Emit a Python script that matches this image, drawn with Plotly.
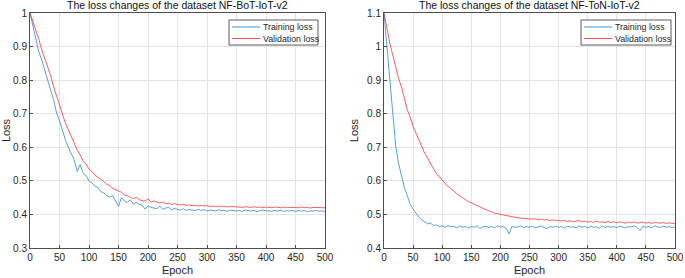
import plotly.graph_objects as go

epochs = list(range(0, 501, 5))

bot_train = [1.000,0.962,0.928,0.884,0.860,0.828,0.800,0.770,0.742,0.702,
 0.680,0.648,0.622,0.600,0.582,0.562,0.528,0.548,0.524,0.516,
 0.500,0.494,0.484,0.480,0.468,0.464,0.456,0.452,0.456,0.440,
 0.424,0.450,0.440,0.436,0.444,0.430,0.437,0.430,0.428,0.416,
 0.426,0.421,0.420,0.417,0.425,0.415,0.419,0.421,0.414,0.418,
 0.415,0.413,0.417,0.412,0.415,0.413,0.411,0.415,0.412,0.414,
 0.410,0.413,0.412,0.410,0.414,0.411,0.412,0.409,0.413,0.411,
 0.410,0.412,0.409,0.413,0.411,0.410,0.412,0.408,0.411,0.413,
 0.410,0.411,0.409,0.412,0.410,0.413,0.409,0.411,0.410,0.412,
 0.409,0.411,0.410,0.412,0.408,0.411,0.410,0.412,0.409,0.411,
 0.408]

bot_val = [1.000,0.975,0.948,0.922,0.890,0.866,0.838,0.814,0.780,0.754,
 0.722,0.697,0.672,0.652,0.630,0.614,0.592,0.577,0.560,0.550,
 0.535,0.528,0.517,0.511,0.503,0.498,0.490,0.486,0.478,0.473,
 0.470,0.466,0.458,0.456,0.452,0.447,0.451,0.444,0.441,0.440,
 0.446,0.437,0.440,0.436,0.434,0.437,0.432,0.434,0.430,0.432,
 0.430,0.428,0.430,0.427,0.428,0.426,0.427,0.425,0.427,0.425,
 0.426,0.424,0.425,0.423,0.425,0.423,0.424,0.422,0.424,0.423,
 0.422,0.423,0.421,0.423,0.422,0.421,0.423,0.421,0.422,0.420,
 0.422,0.421,0.420,0.422,0.421,0.420,0.422,0.420,0.421,0.420,
 0.421,0.420,0.422,0.420,0.421,0.419,0.421,0.420,0.421,0.420,
 0.420]

ton_train = [1.100,1.000,0.880,0.780,0.705,0.652,0.612,0.580,0.556,0.530,
 0.516,0.502,0.492,0.484,0.478,0.472,0.474,0.467,0.469,0.464,
 0.466,0.462,0.467,0.463,0.465,0.460,0.466,0.462,0.464,0.459,
 0.464,0.462,0.466,0.458,0.463,0.465,0.461,0.464,0.460,0.466,
 0.462,0.464,0.458,0.442,0.465,0.461,0.463,0.466,0.460,0.464,
 0.462,0.465,0.460,0.463,0.466,0.461,0.458,0.464,0.462,0.465,
 0.461,0.464,0.459,0.465,0.462,0.463,0.460,0.466,0.462,0.464,
 0.460,0.465,0.462,0.463,0.459,0.466,0.461,0.464,0.462,0.463,
 0.461,0.465,0.462,0.460,0.464,0.463,0.466,0.461,0.452,0.465,
 0.462,0.464,0.460,0.466,0.463,0.461,0.465,0.462,0.464,0.460,
 0.463]

ton_val = [1.100,1.050,1.010,0.975,0.940,0.905,0.880,0.842,0.812,0.790,
 0.762,0.742,0.720,0.700,0.682,0.668,0.650,0.636,0.622,0.612,
 0.600,0.592,0.584,0.576,0.570,0.562,0.556,0.550,0.546,0.538,
 0.535,0.530,0.526,0.522,0.518,0.514,0.511,0.508,0.504,0.502,
 0.500,0.498,0.496,0.494,0.493,0.491,0.490,0.489,0.488,0.487,
 0.488,0.486,0.487,0.484,0.486,0.483,0.485,0.482,0.484,0.481,
 0.483,0.480,0.482,0.479,0.481,0.478,0.480,0.482,0.478,0.480,
 0.477,0.479,0.476,0.480,0.477,0.478,0.475,0.479,0.476,0.478,
 0.475,0.478,0.476,0.474,0.477,0.475,0.478,0.474,0.476,0.477,
 0.474,0.476,0.473,0.477,0.475,0.474,0.476,0.473,0.475,0.474,
 0.472]

titles = ["The loss changes of the dataset NF-BoT-IoT-v2",
          "The loss changes of the dataset NF-ToN-IoT-v2"]
legend_names = ["Training loss", "Validation loss"]
x_ticks = [0, 50, 100, 150, 200, 250, 300, 350, 400, 450, 500]

BLUE = "#2f87d0"
RED = "#f2383a"
FONT = "Liberation Sans, Arial, sans-serif"
W, H = 685, 278

fig = go.Figure()
fig.add_trace(go.Scatter(x=epochs, y=bot_train, mode="lines", name=legend_names[0],
                         line=dict(color=BLUE, width=0.8), xaxis="x", yaxis="y"))
fig.add_trace(go.Scatter(x=epochs, y=bot_val, mode="lines", name=legend_names[1],
                         line=dict(color=RED, width=0.8), xaxis="x", yaxis="y"))
fig.add_trace(go.Scatter(x=epochs, y=ton_train, mode="lines", name=legend_names[0],
                         line=dict(color=BLUE, width=0.8), xaxis="x2", yaxis="y2"))
fig.add_trace(go.Scatter(x=epochs, y=ton_val, mode="lines", name=legend_names[1],
                         line=dict(color=RED, width=0.8), xaxis="x2", yaxis="y2"))

def px_x(p):
    return p / W

def px_y(p):
    return 1 - p / H

axis_common = dict(
    showline=True, mirror=True, linecolor="#4d4d4d", linewidth=1,
    showgrid=True, gridcolor="#e3e3e3", gridwidth=1,
    ticks="inside", ticklen=3, tickcolor="#4d4d4d",
    tickfont=dict(family=FONT, size=10, color="#262626"),
    zeroline=False, automargin=False,
)

dom1 = [px_x(30), px_x(325)]
dom2 = [px_x(384), px_x(675)]
ydom = [px_y(248), px_y(13)]
title_font = dict(family=FONT, size=11, color="#262626")

fig.update_layout(
    width=W, height=H,
    margin=dict(l=0, r=0, t=0, b=0, autoexpand=False),
    paper_bgcolor="white", plot_bgcolor="white",
    showlegend=False,
    font=dict(family=FONT, size=10, color="#262626"),
    xaxis=dict(domain=dom1, range=[0, 500], tickvals=x_ticks, anchor="y",
               title=dict(text="Epoch", font=title_font, standoff=4),
               **axis_common),
    yaxis=dict(domain=ydom, range=[0.3, 1.0], dtick=0.1, anchor="x",
               title=dict(text="Loss", font=title_font, standoff=6),
               **axis_common),
    xaxis2=dict(domain=dom2, range=[0, 500], tickvals=x_ticks, anchor="y2",
                title=dict(text="Epoch", font=title_font, standoff=4),
                **axis_common),
    yaxis2=dict(domain=ydom, range=[0.4, 1.1], dtick=0.1, anchor="x2",
                title=dict(text="Loss", font=title_font, standoff=6),
                **axis_common),
)

# titles
for dom, t in zip([dom1, dom2], titles):
    fig.add_annotation(x=(dom[0] + dom[1]) / 2, y=px_y(5), xref="paper", yref="paper",
                       text=t, showarrow=False, xanchor="center", yanchor="middle",
                       font=dict(family=FONT, size=10.5, color="#111111"))

# legends (box, sample lines, labels)
for bx0, bx1 in [(229, 318), (581, 671)]:
    fig.add_shape(type="rect", xref="paper", yref="paper",
                  x0=px_x(bx0), x1=px_x(bx1), y0=px_y(45), y1=px_y(20),
                  line=dict(color="#333333", width=0.8), fillcolor="white", layer="above")
    for yy, col, name in [(27, BLUE, legend_names[0]), (38.5, RED, legend_names[1])]:
        fig.add_shape(type="line", xref="paper", yref="paper",
                      x0=px_x(bx0 + 3), x1=px_x(bx0 + 31), y0=px_y(yy), y1=px_y(yy),
                      line=dict(color=col, width=0.9), layer="above")
        fig.add_annotation(x=px_x(bx0 + 32), y=px_y(yy), xref="paper", yref="paper",
                           text=name, showarrow=False, xanchor="left", yanchor="middle",
                           font=dict(family=FONT, size=8.8, color="#262626"))

fig.write_html("out.html", config={"displayModeBar": False},
               post_script="document.body.style.margin='0px';document.body.style.overflow='hidden';")
